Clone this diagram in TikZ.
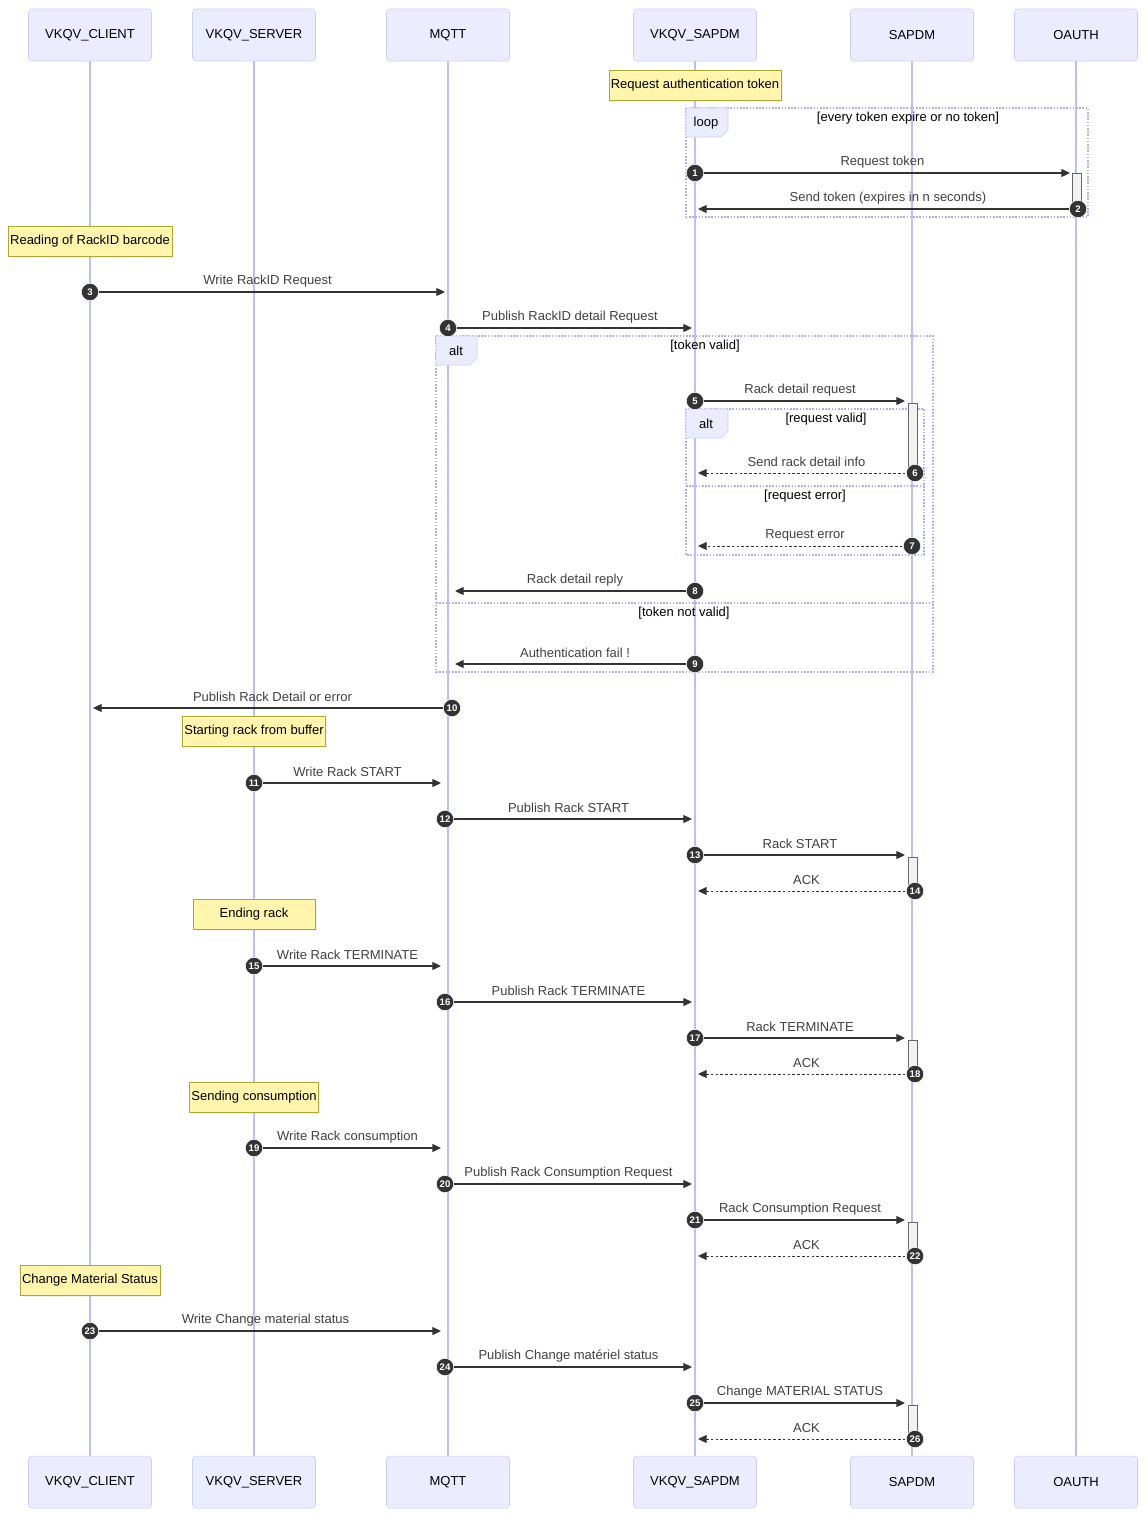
\documentclass[tikz,border=0pt]{standalone}
\usepackage{fontspec}
\setmainfont{Liberation Sans}
\usetikzlibrary{arrows.meta,shadows}
\definecolor{actorfill}{RGB}{236,236,255}
\definecolor{actorline}{RGB}{204,204,255}
\definecolor{lifeline}{RGB}{190,190,250}
\definecolor{notefill}{RGB}{255,245,173}
\definecolor{noteline}{RGB}{170,170,51}
\definecolor{msgline}{RGB}{51,51,51}
\definecolor{frameline}{RGB}{175,175,240}
\tikzset{
    every node/.style={align=center,font=\fontsize{9.75}{11}\selectfont},
    actor/.style={draw=actorline,fill=actorfill,rounded corners=2.5pt,minimum width=92.25pt,minimum height=39pt},
    life/.style={draw=lifeline,line width=1.1pt},
    note/.style={draw=noteline,fill=notefill,minimum width=91.5pt,minimum height=22.5pt,inner xsep=1.5pt,
        drop shadow={opacity=0.12,shadow xshift=1.2pt,shadow yshift=-1.2pt}},
    frame/.style={draw=frameline,line width=0.9pt,dash pattern=on 1.2pt off 1.2pt},
    tab/.style={draw=actorline,fill=actorfill},
    cond/.style={},
    activ/.style={draw=black!60,fill=black!5,line width=0.6pt},
    call/.style={draw=msgline,line width=0.9pt,-{Triangle[length=6.5pt,width=6pt]}},
    reply/.style={call,line width=0.7pt,dash pattern=on 2pt off 1.6pt},
    num/.style={circle,fill=msgline,draw=white,line width=0.4pt,text=white,inner sep=0pt,minimum size=13pt,
        font=\bfseries\fontsize{7.2}{7.2}\selectfont},
    lbl/.style={text=black!75},
}
\begin{document}
\begin{tikzpicture}[x=0.75pt,y=-0.75pt]
    \useasboundingbox (0,0) rectangle (1146,1517);

    % participants and lifelines
    \foreach \n/\x/\t in {cli/90/VKQV\_CLIENT,srv/254/VKQV\_SERVER,mqtt/448/MQTT,vsap/695/VKQV\_SAPDM,sap/912/SAPDM,oauth/1076/OAUTH} {
        \node[actor] (\n T) at (\x,35) {\t};
        \node[actor] (\n B) at (\x,1482) {\t};
        \draw[life] (\n T) -- (\n B);
    }

    % loop frame
    \draw[frame] (686,108) rectangle (1088,217);
    \draw[tab] (686,108) -- (728,108) -- (728,130) -- (721,137) -- (686,137) -- cycle;
    \node (loopT) at (706,123) {loop};
    \node[cond] (loopC) at (908,118) {[every token expire or no token]};

    % outer alt
    \draw[frame] (436,336) rectangle (933,672);
    \draw[frame] (436,603) -- (933,603);
    \draw[tab] (436,336) -- (477,336) -- (477,358) -- (470,365) -- (436,365) -- cycle;
    \node (altT) at (456,351) {alt};
    \node[cond] (altC) at (705,346) {[token valid]};
    \node[cond] (altE) at (684,613) {[token not valid]};

    % inner alt
    \draw[frame] (686,409) rectangle (924,555);
    \draw[frame] (686,486) -- (924,486);
    \draw[tab] (686,409) -- (728,409) -- (728,431) -- (721,438) -- (686,438) -- cycle;
    \node (ialtT) at (706,424) {alt};
    \node[cond] (ialtC) at (826,419) {[request valid]};
    \node[cond] (ialtE) at (805,496) {[request error]};

    % notes
    \node[note] (nAuth) at (695,85) {Request authentication token};
    \node[note] (nRead) at (90,241) {Reading of RackID barcode};
    \node[note] (nStart) at (254,731) {Starting rack from buffer};
    \node[note] (nEnd) at (254,914) {Ending rack};
    \node[note] (nCons) at (254,1097) {Sending consumption};
    \node[note] (nStat) at (90,1280) {Change Material Status};

    % activations
    \draw[activ] (1072,173) rectangle (1081,209);
    \foreach \ya/\yb in {403/473,857/891,1040/1074,1222/1256,1405/1439}
        \draw[activ] (908,\ya) rectangle (917,\yb);

    % messages
    \foreach \i/\y/\a/\b/\t/\s in {
        1/173/695/1070/Request token/call,
        2/209/1078/698/Send token (expires in n seconds)/call,
        3/292/90/445/Write RackID Request/call,
        4/328/448/692/Publish RackID detail Request/call,
        5/401/695/905/Rack detail request/call,
        6/473/915/698/Send rack detail info/reply,
        7/546/912/698/Request error/reply,
        8/591/695/455/Rack detail reply/call,
        9/664/695/455/Authentication fail !/call,
        10/708/452/93/Publish Rack Detail or error/call,
        11/783/254/441/Write Rack START/call,
        12/819/445/692/Publish Rack START/call,
        13/855/695/905/Rack START/call,
        14/891/915/698/ACK/reply,
        15/966/254/441/Write Rack TERMINATE/call,
        16/1002/445/692/Publish Rack TERMINATE/call,
        17/1038/695/905/Rack TERMINATE/call,
        18/1074/915/698/ACK/reply,
        19/1148/254/441/Write Rack consumption/call,
        20/1184/445/692/Publish Rack Consumption Request/call,
        21/1220/695/905/Rack Consumption Request/call,
        22/1256/915/698/ACK/reply,
        23/1331/90/441/Write Change material status/call,
        24/1367/445/692/Publish Change matériel status/call,
        25/1403/695/905/Change MATERIAL STATUS/call,
        26/1439/915/698/ACK/reply} {
        \coordinate (m\i s) at (\a,\y);
        \coordinate (m\i e) at (\b,\y);
        \draw[\s] (m\i s) -- (m\i e);
        \node[lbl] (m\i l) at ({(\a+\b)/2},\y-11) {\t};
        \node[num] (m\i) at (m\i s) {\i};
    }
\end{tikzpicture}
\end{document}
